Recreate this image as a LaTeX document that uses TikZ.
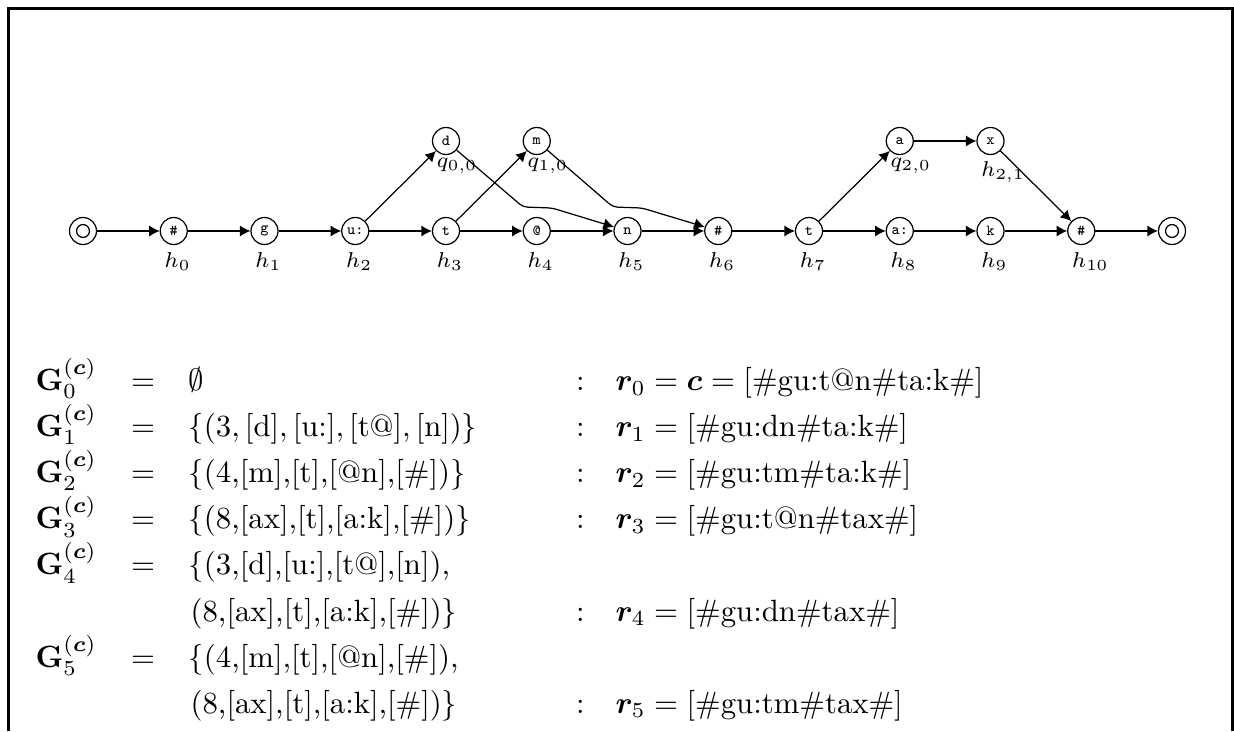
\documentclass[tikz,border=0pt]{standalone}
\usepackage{bm}
\usetikzlibrary{arrows.meta}
\tikzset{
  st/.style={circle,draw,line width=0.4pt,minimum size=8.78pt,inner sep=0pt,font=\fontsize{5}{6}\selectfont\ttfamily},
  hl/.style={anchor=base west,inner sep=0pt,font=\scriptsize},
  ar/.style={-{Latex[length=3.4pt,width=3.6pt]},line width=0.4pt},
  eq/.style={anchor=base west,inner sep=0pt},
  eqc/.style={anchor=base,inner sep=0pt},
  frameline/.style={line width=0.9pt}
}
\begin{document}
\begin{tikzpicture}[x=0.3252pt,y=-0.3252pt]
\useasboundingbox (0,0) rectangle (1234,731);
\draw[frameline] (8.3,731) -- (8.3,8.3) -- (1232.3,8.3) -- (1232.3,731);

% main row
\node[st] (s)   at (83,231) {};
\draw[line width=0.4pt] (s.center) circle[radius=2.1pt];
\node[st] (h0)  at (173.75,231) {\#};
\node[st] (h1)  at (264.5,231) {g};
\node[st] (h2)  at (355.25,231) {u:};
\node[st] (h3)  at (446,231) {t};
\node[st] (h4)  at (536.75,231) {@};
\node[st] (h5)  at (627.5,231) {n};
\node[st] (h6)  at (718.25,231) {\#};
\node[st] (h7)  at (809,231) {t};
\node[st] (h8)  at (899.75,231) {a:};
\node[st] (h9)  at (990.5,231) {k};
\node[st] (h10) at (1081.25,231) {\#};
\node[st] (fin) at (1172,231) {};
\draw[line width=0.4pt] (fin.center) circle[radius=2.1pt];

% upper row
\node[st] (q00) at (446,141) {d};
\node[st] (q10) at (536.75,141) {m};
\node[st] (q20) at (899.75,141) {a};
\node[st] (h21) at (990.5,141) {x};

% labels
\node[hl] (l0)  at (163.75,267) {$h_0$};
\node[hl] (l1)  at (254.5,267) {$h_1$};
\node[hl] (l2)  at (345.25,267) {$h_2$};
\node[hl] (l3)  at (436,267) {$h_3$};
\node[hl] (l4)  at (526.75,267) {$h_4$};
\node[hl] (l5)  at (617.5,267) {$h_5$};
\node[hl] (l6)  at (708.25,267) {$h_6$};
\node[hl] (l7)  at (799,267) {$h_7$};
\node[hl] (l8)  at (889.75,267) {$h_8$};
\node[hl] (l9)  at (980.5,267) {$h_9$};
\node[hl] (l10) at (1071.25,267) {$h_{10}$};
\node[hl] (lq00) at (436,167) {$q_{0,0}$};
\node[hl] (lq10) at (526.75,167) {$q_{1,0}$};
\node[hl] (lq20) at (889.75,167) {$q_{2,0}$};
\node[hl] (lh21) at (980.5,176) {$h_{2,1}$};

% bend points
\coordinate (b1) at (523,207);
\coordinate (b2) at (552,208);
\coordinate (b3) at (613,207);
\coordinate (b4) at (642,208);

% edges
\draw[ar] (s) -- (h0);
\draw[ar] (h0) -- (h1);
\draw[ar] (h1) -- (h2);
\draw[ar] (h2) -- (h3);
\draw[ar] (h3) -- (h4);
\draw[ar] (h4) -- (h5);
\draw[ar] (h5) -- (h6);
\draw[ar] (h6) -- (h7);
\draw[ar] (h7) -- (h8);
\draw[ar] (h8) -- (h9);
\draw[ar] (h9) -- (h10);
\draw[ar] (h10) -- (fin);
\draw[ar] (h2) -- (q00);
\draw[ar,rounded corners=1.5pt] (q00) -- (b1) -- (b2) -- (h5);
\draw[ar] (h3) -- (q10);
\draw[ar,rounded corners=1.5pt] (q10) -- (b3) -- (b4) -- (h6);
\draw[ar] (h7) -- (q20);
\draw[ar] (q20) -- (h21);
\draw[ar] (h21) -- (h10);

% equations
\node[eq]  (G0) at (35,390.5) {$\mathbf{G}_0^{(\bm{c})}$};
\node[eqc] (E0) at (143,390.5) {$=$};
\node[eq]  (R0) at (188,390.5) {$\emptyset$};
\node[eqc] (C0) at (580.5,390.5) {$:$};
\node[eq]  (S0) at (615,390.5) {$\bm{r}_0 = \bm{c} = {}$[\#gu:t@n\#ta:k\#]};

\node[eq]  (G1) at (35,436.6) {$\mathbf{G}_1^{(\bm{c})}$};
\node[eqc] (E1) at (143,436.6) {$=$};
\node[eq]  (R1) at (188,436.6) {$\{(3, [\mathrm{d}], [\mbox{u:}], [\mbox{t@}], [\mathrm{n}])\}$};
\node[eqc] (C1) at (580.5,436.6) {$:$};
\node[eq]  (S1) at (615,436.6) {$\bm{r}_1 = {}$[\#gu:dn\#ta:k\#]};

\node[eq]  (G2) at (35,482.7) {$\mathbf{G}_2^{(\bm{c})}$};
\node[eqc] (E2) at (143,482.7) {$=$};
\node[eq]  (R2) at (188,482.7) {$\{$(4,[m],[t],[@n],[\#])$\}$};
\node[eqc] (C2) at (580.5,482.7) {$:$};
\node[eq]  (S2) at (615,482.7) {$\bm{r}_2 = {}$[\#gu:tm\#ta:k\#]};

\node[eq]  (G3) at (35,528.8) {$\mathbf{G}_3^{(\bm{c})}$};
\node[eqc] (E3) at (143,528.8) {$=$};
\node[eq]  (R3) at (188,528.8) {$\{$(8,[ax],[t],[a:k],[\#])$\}$};
\node[eqc] (C3) at (580.5,528.8) {$:$};
\node[eq]  (S3) at (615,528.8) {$\bm{r}_3 = {}$[\#gu:t@n\#tax\#]};

\node[eq]  (G4) at (35,574.9) {$\mathbf{G}_4^{(\bm{c})}$};
\node[eqc] (E4) at (143,574.9) {$=$};
\node[eq]  (R4) at (188,574.9) {$\{$(3,[d],[u:],[t@],[n]),};
\node[eq]  (R4b) at (190,621) {(8,[ax],[t],[a:k],[\#])$\}$};
\node[eqc] (C4) at (580.5,621) {$:$};
\node[eq]  (S4) at (615,621) {$\bm{r}_4 = {}$[\#gu:dn\#tax\#]};

\node[eq]  (G5) at (35,667.1) {$\mathbf{G}_5^{(\bm{c})}$};
\node[eqc] (E5) at (143,667.1) {$=$};
\node[eq]  (R5) at (188,667.1) {$\{$(4,[m],[t],[@n],[\#]),};
\node[eq]  (R5b) at (190,713.2) {(8,[ax],[t],[a:k],[\#])$\}$};
\node[eqc] (C5) at (580.5,713.2) {$:$};
\node[eq]  (S5) at (615,713.2) {$\bm{r}_5 = {}$[\#gu:tm\#tax\#]};
\end{tikzpicture}
\end{document}
